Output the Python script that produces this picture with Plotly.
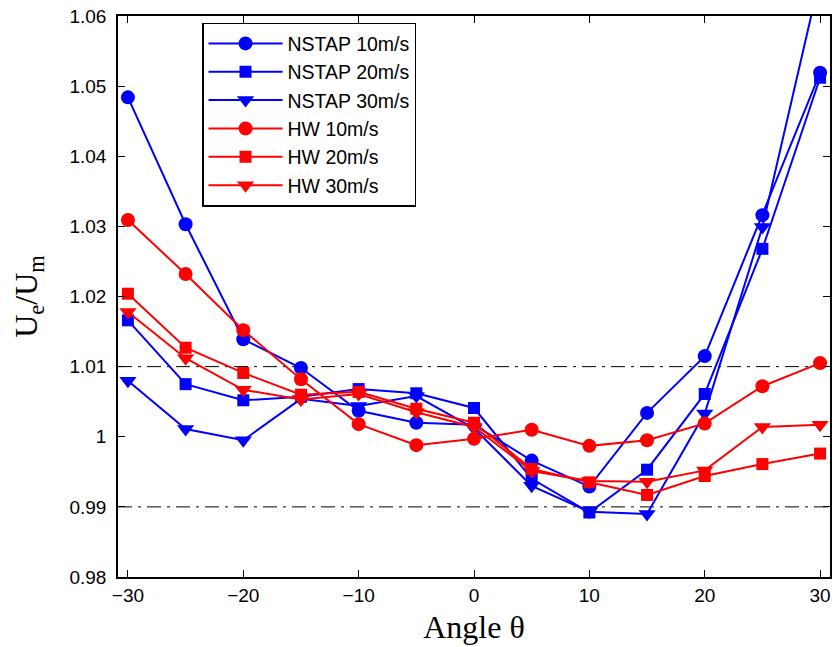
import plotly.graph_objects as go

angles = [-30, -25, -20, -15, -10, -5, 0, 5, 10, 15, 20, 25, 30]

nstap_10 = [1.0484, 1.0303, 1.0139, 1.0098, 1.0037, 1.0020, 1.0017, 0.9966, 0.9929, 1.0034, 1.0115, 1.0316, 1.0519]
nstap_20 = [1.0166, 1.0075, 1.0052, 1.0057, 1.0068, 1.0062, 1.0041, 0.9940, 0.9892, 0.9953, 1.0061, 1.0268, 1.0512]
nstap_30 = [1.0080, 1.0011, 0.9995, 1.0054, 1.0044, 1.0058, 1.0012, 0.9930, 0.9893, 0.9890, 1.0033, 1.0299, 1.0655]
hw_10 = [1.0309, 1.0232, 1.0152, 1.0082, 1.0018, 0.9988, 0.9997, 1.0010, 0.9987, 0.9995, 1.0019, 1.0072, 1.0105]
hw_20 = [1.0204, 1.0127, 1.0091, 1.0060, 1.0064, 1.0040, 1.0020, 0.9954, 0.9935, 0.9917, 0.9944, 0.9961, 0.9976]
hw_30 = [1.0178, 1.0112, 1.0067, 1.0053, 1.0061, 1.0035, 1.0014, 0.9951, 0.9937, 0.9936, 0.9952, 1.0014, 1.0017]

ref_lines = [1.01, 0.99]
x_ticks = [-30, -20, -10, 0, 10, 20, 30]
x_tick_labels = ["\u221230", "\u221220", "\u221210", "0", "10", "20", "30"]
y_ticks = [0.98, 0.99, 1.0, 1.01, 1.02, 1.03, 1.04, 1.05, 1.06]
y_tick_labels = ["0.98", "0.99", "1", "1.01", "1.02", "1.03", "1.04", "1.05", "1.06"]

series = [
    ("NSTAP 10m/s", nstap_10, "#0000ff", "circle", 14),
    ("NSTAP 20m/s", nstap_20, "#0000ff", "square", 12),
    ("NSTAP 30m/s", nstap_30, "#0000ff", "triangle-down", 15),
    ("HW 10m/s", hw_10, "#ff0000", "circle", 14),
    ("HW 20m/s", hw_20, "#ff0000", "square", 12),
    ("HW 30m/s", hw_30, "#ff0000", "triangle-down", 15),
]

fig = go.Figure()
for name, vals, col, sym, sz in series:
    fig.add_trace(go.Scatter(
        x=angles, y=vals, name=name, mode="lines+markers",
        line=dict(color=col, width=2),
        marker=dict(symbol=sym, size=sz, color=col, line=dict(width=0)),
        cliponaxis=True,
    ))

for v in ref_lines:
    fig.add_shape(type="line", xref="paper", x0=0, x1=1, yref="y", y0=v, y1=v,
                  line=dict(color="black", width=1, dash="14px,6px,3px,6px"), layer="below")

fig.update_layout(
    width=834, height=647,
    margin=dict(l=118, r=2, t=16, b=70),
    plot_bgcolor="white", paper_bgcolor="white",
    font=dict(family="Liberation Sans, Arial", size=19, color="black"),
    showlegend=True,
    legend=dict(
        x=0.118, y=0.988, xanchor="left", yanchor="top",
        bgcolor="white", bordercolor="black", borderwidth=1.5,
        font=dict(family="Liberation Sans, Arial", size=19.5, color="black"),
        itemwidth=74, tracegroupgap=0,
    ),
    xaxis=dict(
        range=[-30.86, 30.86], tickvals=x_ticks, ticktext=x_tick_labels,
        ticks="inside", ticklen=7, tickwidth=1, tickcolor="black",
        showline=True, linecolor="black", linewidth=1.5, mirror="ticks",
        showgrid=False, zeroline=False,
        tickfont=dict(size=19),
        title=dict(text="Angle \u03b8", font=dict(family="Liberation Serif, Times New Roman", size=32), standoff=11),
    ),
    yaxis=dict(
        range=[0.98, 1.06], tickvals=y_ticks, ticktext=y_tick_labels,
        ticks="inside", ticklen=7, tickwidth=1, tickcolor="black",
        showline=True, linecolor="black", linewidth=1.5, mirror="ticks",
        showgrid=False, zeroline=False,
        tickfont=dict(size=19), ticklabelstandoff=6,
        title=dict(text="U<sub>e</sub>/U<sub>m</sub>", font=dict(family="Liberation Serif, Times New Roman", size=32), standoff=22),
    ),
)

fig.write_html("out.html")
